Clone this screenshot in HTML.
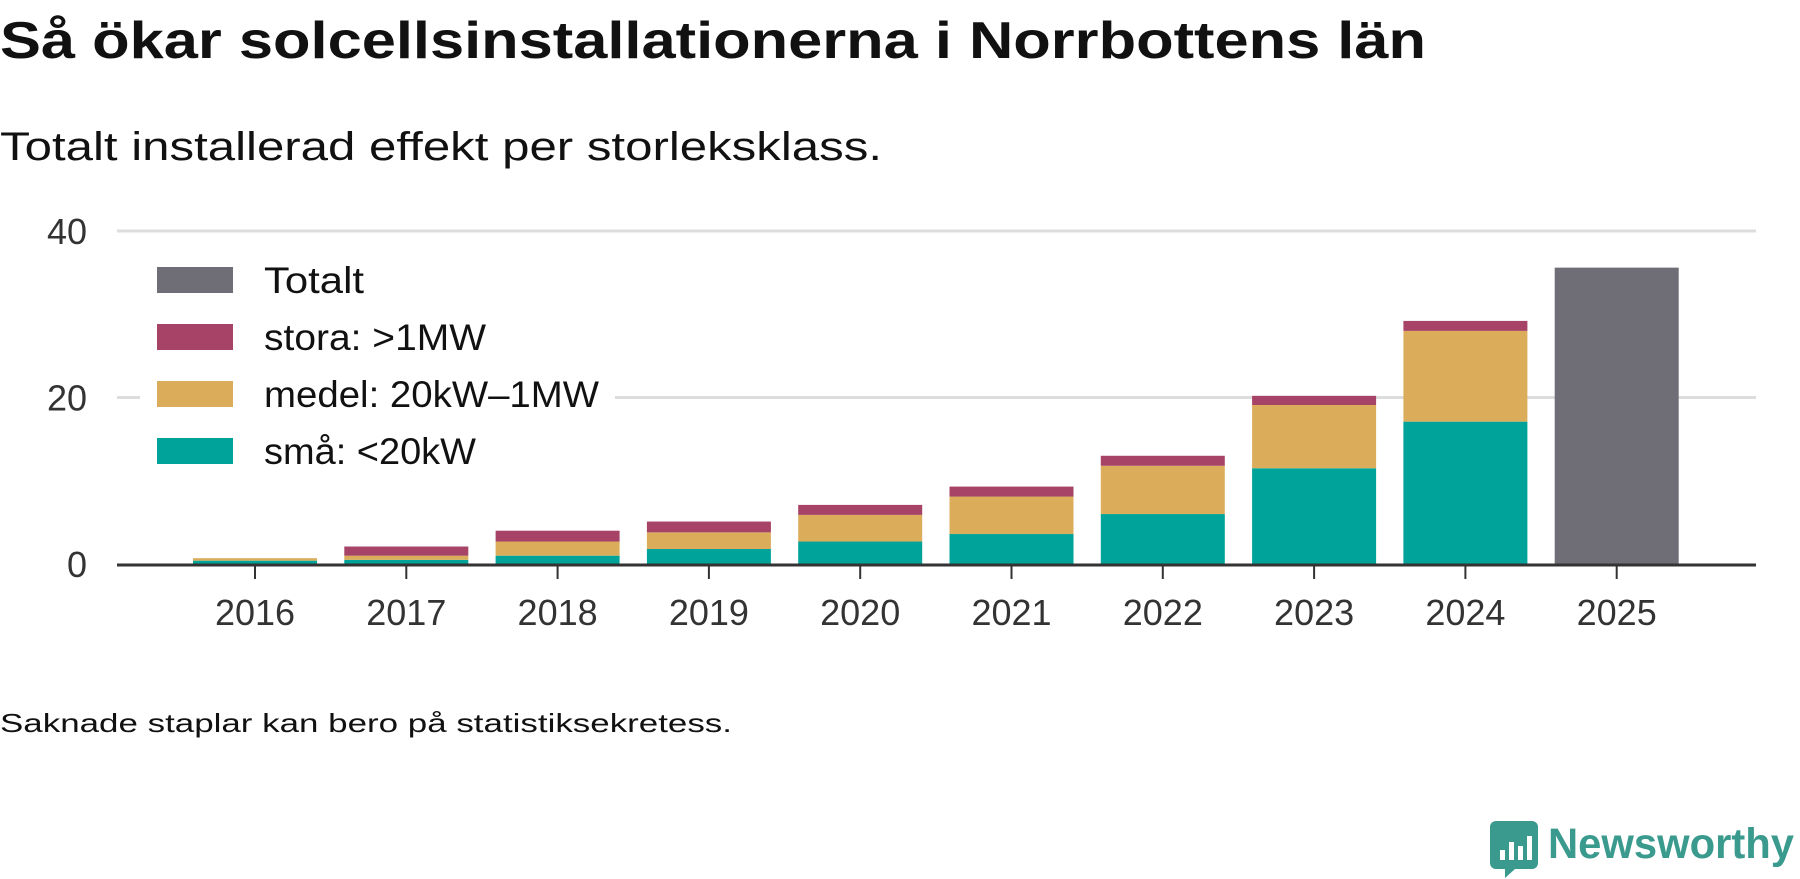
<!DOCTYPE html>
<html><head><meta charset="utf-8"><style>
html,body{margin:0;padding:0;background:#fff;}
svg{display:block;font-family:"Liberation Sans","DejaVu Sans",sans-serif;}
</style></head><body>
<svg id="chart" width="1800" height="879" viewBox="0 0 1800 879">
<text x="0" y="58" font-size="52" font-weight="bold" fill="#111" textLength="1426" lengthAdjust="spacingAndGlyphs">Så ökar solcellsinstallationerna i Norrbottens län</text>
<text x="0" y="160" font-size="40" fill="#111" textLength="882" lengthAdjust="spacingAndGlyphs">Totalt installerad effekt per storleksklass.</text>
<g id="grid"></g>
<g id="bars"></g>
<g id="axis"></g>
<g id="legend"></g>
<text x="0" y="732" font-size="26" fill="#111" textLength="732" lengthAdjust="spacingAndGlyphs">Saknade staplar kan bero på statistiksekretess.</text>
<g>
<rect x="1490" y="821" width="48" height="48" rx="6" fill="#3a9a8e"/>
<rect x="1500" y="850" width="5" height="10" fill="#fff"/><rect x="1509" y="842" width="5" height="18" fill="#fff"/><rect x="1518" y="846" width="5" height="14" fill="#fff"/><rect x="1527" y="836" width="5" height="24" fill="#fff"/>
<polygon points="1505,869 1515,869 1505,878" fill="#3a9a8e"/>
<text x="1548" y="858" font-size="43" font-weight="bold" fill="#3a9a8e" textLength="246" lengthAdjust="spacingAndGlyphs">Newsworthy</text>
</g>
</svg>
<script>
const years=["2016","2017","2018","2019","2020","2021","2022","2023","2024","2025"];
const sma=[0.4,0.5,1.0,1.8,2.7,3.6,6.0,11.5,17.1,null];
const medel=[0.3,0.5,1.7,2.0,3.2,4.5,5.8,7.6,10.9,null];
const stora=[0.0,1.1,1.3,1.3,1.2,1.2,1.2,1.1,1.2,null];
const totalt=[null,null,null,null,null,null,null,null,null,35.6];
const yTicks=[0,20,40];
const NS="http://www.w3.org/2000/svg";
const x0=117,x1=1756,yZero=564,yTop=231,yMax=40;
const step=151.3,firstC=255,bw=124;
function xs(i){return firstC+i*step;}
function ys(v){return yZero-(v/yMax)*(yZero-yTop);}
function mk(tag,attrs,parent){const e=document.createElementNS(NS,tag);for(const k in attrs)e.setAttribute(k,attrs[k]);parent.appendChild(e);return e;}
const grid=document.getElementById('grid'),bars=document.getElementById('bars'),axis=document.getElementById('axis'),leg=document.getElementById('legend');
yTicks.forEach(t=>{
  if(t>0){const l=mk('line',{x1:x0,x2:x1,y1:ys(t),y2:ys(t),stroke:'#ddd','stroke-width':3},grid);
  
  }
  const tx=mk('text',{x:87,y:ys(t)+13,'font-size':36,fill:'#333','text-anchor':'end'},grid);
  tx.textContent=t;
  
  
});
const cols={sma:'#00a39a',medel:'#dbad5b',stora:'#a64366',totalt:'#6f6d75'};
years.forEach((y,i)=>{
  let base=0;
  [['sma',sma],['medel',medel],['stora',stora],['totalt',totalt]].forEach(([k,arr])=>{
    const v=arr[i]; if(v==null)return;
    const r=mk('rect',{x:xs(i)-bw/2,y:ys(base+v),width:bw,height:ys(base)-ys(base+v),fill:cols[k]},bars);
    
    
    base+=v;
  });
  const tk=mk('line',{x1:xs(i),x2:xs(i),y1:yZero,y2:yZero+15,stroke:'#333','stroke-width':2},axis);
  
  
  const lb=mk('text',{x:xs(i),y:625,'font-size':36,fill:'#333','text-anchor':'middle'},axis);
  lb.textContent=y;
  
  
});
const ax=mk('line',{x1:x0,x2:x1,y1:yZero+1,y2:yZero+1,stroke:'#333','stroke-width':3},axis);


const bg=mk('rect',{x:140,y:250,width:475,height:225,fill:'#fff'},leg);


const items=[['Totalt','totalt',100],['stora: >1MW','stora',222],['medel: 20kW–1MW','medel',335],['små: <20kW','sma',212]];
items.forEach(([t,k,w],j)=>{
  const cy=280+j*57;
  const g=mk('g',{},leg);
  
  
  mk('rect',{x:157,y:cy-13,width:76,height:26,fill:cols[k]},g);
  const tx=mk('text',{x:264,y:cy+13,'font-size':37,fill:'#111',textLength:w,lengthAdjust:'spacingAndGlyphs'},g);
  tx.textContent=t;
});
</script>
</body></html>
